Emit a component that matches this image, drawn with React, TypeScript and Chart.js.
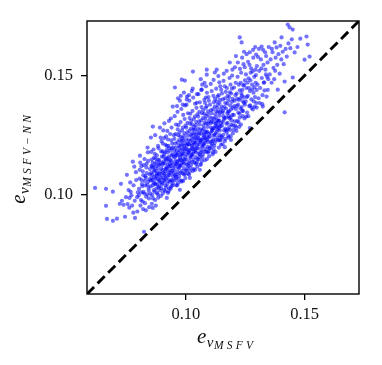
import React, { useEffect, useRef } from "react";
import { Chart, registerables } from "chart.js";

Chart.register(...registerables);

// Axis limits and ticks
const axisMin = 0.0584;
const axisMax = 0.1729;
const tickValues = [0.1, 0.15];

// Axis titles (math-like: e with nested subscripts)
const xTitleParts = [
  { text: "e", size: 21, dy: 0, spacing: 0, gap: 0.5 },
  { text: "v", size: 15, dy: 3.5, spacing: 0, gap: 0.5 },
  { text: "MSFV", size: 11.5, dy: 5.5, spacing: 3.2, gap: 0 },
];
const yTitleParts = [
  { text: "e", size: 21, dy: 0, spacing: 0, gap: 0.5 },
  { text: "v", size: 15, dy: 3.5, spacing: 0, gap: 0.5 },
  { text: "MSFV\u2212NN", size: 11.5, dy: 5.5, spacing: 3.2, gap: 0 },
];

// Scatter data: [e_vMSFV, e_vMSFV-NN], grouped by x range
const pts060to080: [number, number][] = [
  [0.0618, 0.1029], [0.0664, 0.1025], [0.0693, 0.1013], [0.0664, 0.0954], [0.0668, 0.0899],
  [0.0693, 0.0891], [0.071, 0.09], [0.0727, 0.1046], [0.0744, 0.0908], [0.0722, 0.0962],
  [0.0738, 0.0958], [0.0731, 0.0975], [0.0748, 0.099],
  [0.0752, 0.1084], [0.0777, 0.1139], [0.0786, 0.0903], [0.0762, 0.0946], [0.0755, 0.0961],
  [0.0771, 0.0998], [0.0768, 0.1012], [0.078, 0.104], [0.0791, 0.1062], [0.0759, 0.102],
  [0.0785, 0.0975], [0.0796, 0.093], [0.0774, 0.0955], [0.079, 0.1095], [0.0798, 0.101],
  [0.0766, 0.1052], [0.0783, 0.1118], [0.0795, 0.099], [0.0779, 0.0925], [0.0763, 0.0987],
];
const pts080to085: [number, number][] = [
  [0.0807, 0.1164], [0.0824, 0.0845], [0.0803, 0.1025], [0.0811, 0.0978], [0.0815, 0.1045],
  [0.0819, 0.1098], [0.0822, 0.1012], [0.0828, 0.0965], [0.0831, 0.1071], [0.0835, 0.113],
  [0.0838, 0.1002], [0.0842, 0.1055], [0.0846, 0.0948], [0.0849, 0.1108], [0.0805, 0.1068],
  [0.0809, 0.0955], [0.0813, 0.112], [0.0817, 0.1036], [0.0821, 0.1082], [0.0826, 0.115],
  [0.0829, 0.104], [0.0833, 0.0992], [0.0836, 0.1091], [0.084, 0.1178], [0.0844, 0.1018],
  [0.0847, 0.1065], [0.0802, 0.0998], [0.0806, 0.1105], [0.0812, 0.101], [0.0818, 0.0972],
  [0.0823, 0.1125], [0.0827, 0.1058], [0.0832, 0.0935], [0.0837, 0.1043], [0.0841, 0.1142],
  [0.0845, 0.0985], [0.0848, 0.1085], [0.0814, 0.1062], [0.0825, 0.1005], [0.0834, 0.1115],
  [0.0843, 0.103], [0.0808, 0.1135], [0.082, 0.094], [0.0839, 0.1198], [0.083, 0.1078],
];
const pts085to090: [number, number][] = [
  [0.0861, 0.1286], [0.0861, 0.0945], [0.0852, 0.1035], [0.0854, 0.1092], [0.0856, 0.1148],
  [0.0858, 0.0998], [0.086, 0.1062], [0.0863, 0.1115], [0.0865, 0.102], [0.0867, 0.1075],
  [0.0869, 0.1172], [0.0871, 0.0978], [0.0873, 0.1045], [0.0875, 0.1101], [0.0877, 0.1138],
  [0.0879, 0.1008], [0.0881, 0.1068], [0.0883, 0.1205], [0.0885, 0.103], [0.0887, 0.1088],
  [0.0889, 0.1125], [0.0891, 0.1282], [0.0893, 0.1052], [0.0895, 0.0995], [0.0897, 0.111],
  [0.0899, 0.116], [0.0853, 0.106], [0.0855, 0.1122], [0.0857, 0.0962], [0.0859, 0.1085],
  [0.0862, 0.104], [0.0864, 0.119], [0.0866, 0.1098], [0.0868, 0.1012], [0.087, 0.113],
  [0.0872, 0.1066], [0.0874, 0.0955], [0.0876, 0.1078], [0.0878, 0.1165], [0.088, 0.1042],
  [0.0882, 0.1112], [0.0884, 0.0988], [0.0886, 0.1058], [0.0888, 0.1145], [0.089, 0.108],
  [0.0892, 0.1018], [0.0894, 0.1135], [0.0896, 0.107], [0.0898, 0.1225], [0.0851, 0.1005],
  [0.0856, 0.107], [0.086, 0.1135], [0.0864, 0.105], [0.0868, 0.1105], [0.0872, 0.1152],
  [0.0876, 0.1025], [0.088, 0.109], [0.0884, 0.1148], [0.0888, 0.1035], [0.0892, 0.1098],
  [0.0896, 0.1182], [0.0899, 0.1045], [0.0854, 0.118], [0.0858, 0.1118], [0.0862, 0.0985],
  [0.0866, 0.1155], [0.087, 0.1048], [0.0874, 0.112], [0.0878, 0.1085], [0.0882, 0.1002],
  [0.0886, 0.1128], [0.089, 0.1062], [0.0894, 0.124], [0.0898, 0.1088], [0.0853, 0.124],
  [0.0871, 0.125], [0.0885, 0.1195], [0.0897, 0.1028],
];
const pts090to095: [number, number][] = [
  [0.092, 0.0987], [0.0945, 0.137], [0.0902, 0.105], [0.0904, 0.1105], [0.0906, 0.116],
  [0.0908, 0.102], [0.091, 0.1085], [0.0912, 0.1132], [0.0914, 0.121], [0.0916, 0.1068],
  [0.0918, 0.1115], [0.0922, 0.1045], [0.0924, 0.1178], [0.0926, 0.1095], [0.0928, 0.114],
  [0.093, 0.1028], [0.0932, 0.1082], [0.0934, 0.1255], [0.0936, 0.112], [0.0938, 0.1062],
  [0.094, 0.1165], [0.0942, 0.11], [0.0944, 0.104], [0.0946, 0.1198], [0.0948, 0.1128],
  [0.0901, 0.1125], [0.0903, 0.1005], [0.0905, 0.1072], [0.0907, 0.114], [0.0909, 0.1238],
  [0.0911, 0.1058], [0.0913, 0.1098], [0.0915, 0.115], [0.0917, 0.103], [0.0919, 0.1188],
  [0.0921, 0.111], [0.0923, 0.1072], [0.0925, 0.1232], [0.0927, 0.1015], [0.0929, 0.116],
  [0.0931, 0.1118], [0.0933, 0.1055], [0.0935, 0.1185], [0.0937, 0.1092], [0.0939, 0.1035],
  [0.0941, 0.1135], [0.0943, 0.1215], [0.0947, 0.1075], [0.0949, 0.116], [0.0902, 0.1182],
  [0.0906, 0.1092], [0.091, 0.13], [0.0914, 0.104], [0.0918, 0.1148], [0.0922, 0.1268],
  [0.0926, 0.1058], [0.093, 0.1195], [0.0934, 0.1102], [0.0938, 0.1145], [0.0942, 0.106],
  [0.0946, 0.1112], [0.095, 0.125], [0.0904, 0.1132], [0.0908, 0.1062], [0.0912, 0.1178],
  [0.0916, 0.1108], [0.092, 0.1205], [0.0924, 0.1125], [0.0928, 0.1085], [0.0932, 0.1148],
  [0.0936, 0.1025], [0.094, 0.1282], [0.0944, 0.117], [0.0948, 0.109], [0.0903, 0.1215],
  [0.0909, 0.117], [0.0915, 0.108], [0.0921, 0.1155], [0.0927, 0.1205], [0.0933, 0.1128],
  [0.0939, 0.1228], [0.0945, 0.1048], [0.0905, 0.127], [0.0917, 0.1245], [0.0929, 0.131],
  [0.0941, 0.1195], [0.0913, 0.1015], [0.0925, 0.1008], [0.0937, 0.132],
];
const pts095to100: [number, number][] = [
  [0.0954, 0.145], [0.0975, 0.1021], [0.0983, 0.1483], [0.0996, 0.1479], [0.0952, 0.1102],
  [0.0954, 0.1158], [0.0956, 0.1215], [0.0958, 0.1068], [0.096, 0.1128], [0.0962, 0.1185],
  [0.0964, 0.104], [0.0966, 0.1095], [0.0968, 0.125], [0.097, 0.1142], [0.0972, 0.1078],
  [0.0974, 0.1198], [0.0976, 0.112], [0.0978, 0.1165], [0.098, 0.1055], [0.0982, 0.1225],
  [0.0984, 0.1135], [0.0986, 0.109], [0.0988, 0.1282], [0.099, 0.1175], [0.0992, 0.1112],
  [0.0994, 0.1205], [0.0996, 0.1148], [0.0998, 0.107], [0.0951, 0.1185], [0.0953, 0.106],
  [0.0955, 0.1118], [0.0957, 0.1172], [0.0959, 0.1295], [0.0961, 0.1085], [0.0963, 0.1138],
  [0.0965, 0.122], [0.0967, 0.105], [0.0969, 0.1178], [0.0971, 0.1115], [0.0973, 0.1262],
  [0.0975, 0.1158], [0.0977, 0.1092], [0.0979, 0.1212], [0.0981, 0.1145], [0.0983, 0.11],
  [0.0985, 0.1238], [0.0987, 0.1168], [0.0989, 0.1058], [0.0991, 0.1195], [0.0993, 0.113],
  [0.0995, 0.1318], [0.0997, 0.1218], [0.0999, 0.1102], [0.0952, 0.1235], [0.0956, 0.1142],
  [0.096, 0.1075], [0.0964, 0.1168], [0.0968, 0.111], [0.0972, 0.123], [0.0976, 0.1185],
  [0.098, 0.1125], [0.0984, 0.127], [0.0988, 0.115], [0.0992, 0.1245], [0.0996, 0.1088],
  [0.1, 0.1192], [0.0954, 0.1082], [0.0958, 0.1198], [0.0962, 0.113], [0.0966, 0.1275],
  [0.097, 0.1065], [0.0974, 0.1148], [0.0978, 0.1305], [0.0982, 0.1172], [0.0986, 0.1208],
  [0.099, 0.1138], [0.0994, 0.1258], [0.0998, 0.116], [0.0953, 0.133], [0.0959, 0.104],
  [0.0965, 0.1348], [0.0971, 0.1205], [0.0977, 0.1245], [0.0983, 0.106], [0.0989, 0.1335],
  [0.0995, 0.1182], [0.0957, 0.1255], [0.0963, 0.1372], [0.0969, 0.1292], [0.0981, 0.136],
  [0.0987, 0.1228], [0.0993, 0.1085], [0.0999, 0.129], [0.0961, 0.1165], [0.0973, 0.1125],
  [0.0985, 0.119], [0.0997, 0.1375], [0.0967, 0.1405], [0.0979, 0.1415], [0.0992, 0.1429],
  [0.0975, 0.1395], [0.0987, 0.1378],
];
const pts100to105: [number, number][] = [
  [0.103, 0.1517], [0.1017, 0.1071], [0.1002, 0.1148], [0.1004, 0.1205], [0.1006, 0.1262],
  [0.1008, 0.1112], [0.101, 0.1175], [0.1012, 0.123], [0.1014, 0.1085], [0.1016, 0.114],
  [0.1018, 0.1298], [0.102, 0.1188], [0.1022, 0.1125], [0.1024, 0.1245], [0.1026, 0.1165],
  [0.1028, 0.121], [0.103, 0.11], [0.1032, 0.1272], [0.1034, 0.1182], [0.1036, 0.1135],
  [0.1038, 0.1328], [0.104, 0.122], [0.1042, 0.1158], [0.1044, 0.1252], [0.1046, 0.1195],
  [0.1048, 0.1118], [0.1001, 0.1232], [0.1003, 0.1102], [0.1005, 0.1168], [0.1007, 0.1215],
  [0.1009, 0.1342], [0.1011, 0.1132], [0.1013, 0.1185], [0.1015, 0.1268], [0.1017, 0.1098],
  [0.1019, 0.1225], [0.1021, 0.116], [0.1023, 0.131], [0.1025, 0.1205], [0.1027, 0.1138],
  [0.1029, 0.1258], [0.1031, 0.1192], [0.1033, 0.1148], [0.1035, 0.1285], [0.1037, 0.1215],
  [0.1039, 0.1105], [0.1041, 0.124], [0.1043, 0.1178], [0.1045, 0.1365], [0.1047, 0.1265],
  [0.1049, 0.115], [0.1002, 0.1282], [0.1006, 0.119], [0.101, 0.1122], [0.1014, 0.1212],
  [0.1018, 0.1155], [0.1022, 0.1278], [0.1026, 0.1232], [0.103, 0.1172], [0.1034, 0.1318],
  [0.1038, 0.1198], [0.1042, 0.1292], [0.1046, 0.1135], [0.105, 0.1238], [0.1004, 0.1128],
  [0.1008, 0.1248], [0.1012, 0.1178], [0.1016, 0.1322], [0.102, 0.1112], [0.1024, 0.1195],
  [0.1028, 0.1352], [0.1032, 0.122], [0.1036, 0.1255], [0.104, 0.1185], [0.1044, 0.1305],
  [0.1048, 0.1208], [0.1003, 0.1378], [0.1009, 0.1088], [0.1015, 0.1395], [0.1021, 0.1252],
  [0.1027, 0.1295], [0.1033, 0.1108], [0.1039, 0.1382], [0.1045, 0.1228], [0.1007, 0.1302],
  [0.1013, 0.1418], [0.1019, 0.134], [0.1031, 0.1408], [0.1037, 0.1275], [0.1043, 0.113],
  [0.1049, 0.1338], [0.1011, 0.1212], [0.1023, 0.117], [0.1035, 0.1238], [0.1047, 0.1422],
  [0.1025, 0.1435], [0.1005, 0.1412], [0.1029, 0.1445], [0.1004, 0.14], [0.1046, 0.1386],
];
const pts105to110: [number, number][] = [
  [0.1088, 0.1525], [0.1059, 0.1105], [0.1052, 0.1195], [0.1054, 0.125], [0.1056, 0.1308],
  [0.1058, 0.1158], [0.106, 0.122], [0.1062, 0.1275], [0.1064, 0.113], [0.1066, 0.1185],
  [0.1068, 0.1342], [0.107, 0.1232], [0.1072, 0.117], [0.1074, 0.129], [0.1076, 0.121],
  [0.1078, 0.1255], [0.108, 0.1145], [0.1082, 0.1318], [0.1084, 0.1228], [0.1086, 0.118],
  [0.1088, 0.1372], [0.109, 0.1265], [0.1092, 0.1202], [0.1094, 0.1298], [0.1096, 0.124],
  [0.1098, 0.1162], [0.1051, 0.1278], [0.1053, 0.1148], [0.1055, 0.1212], [0.1057, 0.126],
  [0.1059, 0.1388], [0.1061, 0.1178], [0.1063, 0.123], [0.1065, 0.1312], [0.1067, 0.1142],
  [0.1069, 0.127], [0.1071, 0.1205], [0.1073, 0.1355], [0.1075, 0.125], [0.1077, 0.1182],
  [0.1079, 0.1302], [0.1081, 0.1238], [0.1083, 0.1192], [0.1085, 0.133], [0.1087, 0.1262],
  [0.1089, 0.115], [0.1091, 0.1285], [0.1093, 0.1222], [0.1095, 0.141], [0.1097, 0.131],
  [0.1099, 0.1195], [0.1052, 0.1328], [0.1056, 0.1235], [0.106, 0.1168], [0.1064, 0.1258],
  [0.1068, 0.12], [0.1072, 0.1322], [0.1076, 0.1278], [0.108, 0.1218], [0.1084, 0.1365],
  [0.1088, 0.1245], [0.1092, 0.1338], [0.1096, 0.1182], [0.1054, 0.1172], [0.1058, 0.1295],
  [0.1062, 0.1225], [0.1066, 0.1368], [0.107, 0.1158], [0.1074, 0.124], [0.1078, 0.1398],
  [0.1082, 0.1265], [0.1086, 0.13], [0.109, 0.1232], [0.1094, 0.135], [0.1098, 0.1255],
  [0.1053, 0.1422], [0.1065, 0.144], [0.1077, 0.134], [0.1089, 0.1428], [0.1057, 0.1348],
  [0.1069, 0.1462], [0.1081, 0.1385], [0.1093, 0.1178], [0.1061, 0.1125], [0.1073, 0.1215],
  [0.1085, 0.1455], [0.1097, 0.1395], [0.1063, 0.1485], [0.1079, 0.147], [0.1088, 0.1504],
  [0.1067, 0.1441], [0.1084, 0.1408],
];
const pts110to115: [number, number][] = [
  [0.113, 0.1525], [0.1122, 0.1513], [0.1102, 0.1245], [0.1104, 0.13], [0.1106, 0.1355],
  [0.1108, 0.1205], [0.111, 0.1268], [0.1112, 0.1322], [0.1114, 0.1178], [0.1116, 0.1232],
  [0.1118, 0.1388], [0.112, 0.128], [0.1122, 0.1218], [0.1124, 0.1338], [0.1126, 0.1258],
  [0.1128, 0.1302], [0.1132, 0.1365], [0.1134, 0.1275], [0.1136, 0.1228], [0.1138, 0.1418],
  [0.114, 0.1312], [0.1142, 0.125], [0.1144, 0.1345], [0.1146, 0.1288], [0.1148, 0.121],
  [0.1101, 0.1325], [0.1103, 0.1195], [0.1105, 0.126], [0.1107, 0.1308], [0.1109, 0.1435],
  [0.1111, 0.1225], [0.1113, 0.1278], [0.1115, 0.1358], [0.1117, 0.119], [0.1119, 0.1318],
  [0.1121, 0.1252], [0.1123, 0.1402], [0.1125, 0.1298], [0.1127, 0.123], [0.1129, 0.135],
  [0.1131, 0.1285], [0.1133, 0.124], [0.1135, 0.1378], [0.1137, 0.131], [0.1139, 0.1198],
  [0.1141, 0.1332], [0.1143, 0.127], [0.1145, 0.1455], [0.1147, 0.1358], [0.1149, 0.1245],
  [0.1102, 0.1378], [0.1106, 0.1282], [0.111, 0.1215], [0.1114, 0.1305], [0.1118, 0.1248],
  [0.1122, 0.137], [0.1126, 0.1325], [0.113, 0.1265], [0.1134, 0.1412], [0.1138, 0.1292],
  [0.1142, 0.1385], [0.1146, 0.1228], [0.1104, 0.1222], [0.1108, 0.1342], [0.1112, 0.1272],
  [0.1116, 0.1415], [0.112, 0.1205], [0.1124, 0.1288], [0.1128, 0.1445], [0.1132, 0.1312],
  [0.1136, 0.1348], [0.114, 0.128], [0.1144, 0.1398], [0.1148, 0.1302], [0.1105, 0.1465],
  [0.1117, 0.1482], [0.1129, 0.1392], [0.1141, 0.1472], [0.1113, 0.117], [0.1125, 0.118],
  [0.1137, 0.1498], [0.1149, 0.144], [0.1143, 0.1231],
];
const pts115to120: [number, number][] = [
  [0.1185, 0.1555], [0.1152, 0.129], [0.1154, 0.1345], [0.1156, 0.14], [0.1158, 0.1252],
  [0.116, 0.1315], [0.1162, 0.1368], [0.1164, 0.1225], [0.1166, 0.1278], [0.1168, 0.1432],
  [0.117, 0.1325], [0.1172, 0.1262], [0.1174, 0.1382], [0.1176, 0.1302], [0.1178, 0.1348],
  [0.118, 0.124], [0.1182, 0.141], [0.1184, 0.132], [0.1186, 0.1272], [0.1188, 0.1462],
  [0.119, 0.1358], [0.1192, 0.1295], [0.1194, 0.139], [0.1196, 0.1335], [0.1198, 0.1258],
  [0.1151, 0.137], [0.1153, 0.124], [0.1155, 0.1305], [0.1157, 0.1352], [0.1159, 0.1478],
  [0.1161, 0.127], [0.1163, 0.1322], [0.1165, 0.1405], [0.1167, 0.1235], [0.1169, 0.1362],
  [0.1171, 0.1298], [0.1173, 0.1448], [0.1175, 0.1342], [0.1177, 0.1275], [0.1179, 0.1395],
  [0.1181, 0.133], [0.1183, 0.1285], [0.1187, 0.1375], [0.1189, 0.1245], [0.1191, 0.1425],
  [0.1193, 0.1312], [0.1195, 0.15], [0.1197, 0.1402], [0.1199, 0.129], [0.1152, 0.1425],
  [0.1158, 0.133], [0.1164, 0.1455], [0.117, 0.127], [0.1176, 0.1415], [0.1182, 0.135],
  [0.1188, 0.1325], [0.1194, 0.1445], [0.116, 0.1508], [0.1172, 0.152], [0.1184, 0.149],
  [0.1196, 0.1525], [0.1166, 0.1385], [0.1178, 0.1248], [0.119, 0.123], [0.1155, 0.1212],
  [0.1185, 0.143], [0.1198, 0.1365], [0.1164, 0.12],
];
const pts120to125: [number, number][] = [
  [0.1227, 0.166], [0.1235, 0.1639], [0.1227, 0.1324], [0.1202, 0.1335], [0.1205, 0.1395],
  [0.1208, 0.129], [0.1211, 0.136], [0.1214, 0.1425], [0.1217, 0.131], [0.122, 0.1378],
  [0.1223, 0.1462], [0.1226, 0.134], [0.1229, 0.1405], [0.1232, 0.1295], [0.1235, 0.1368],
  [0.1238, 0.144], [0.1241, 0.1352], [0.1244, 0.141], [0.1247, 0.132], [0.1249, 0.148],
  [0.1203, 0.145], [0.1206, 0.1308], [0.1209, 0.1418], [0.1212, 0.1282], [0.1215, 0.1372],
  [0.1218, 0.1495], [0.1221, 0.1345], [0.1224, 0.1398], [0.1227, 0.1438], [0.123, 0.1362],
  [0.1233, 0.1512], [0.1236, 0.1415], [0.1239, 0.133], [0.1242, 0.1458], [0.1245, 0.1385],
  [0.1248, 0.1535], [0.1204, 0.1372], [0.121, 0.147], [0.1216, 0.1402], [0.1222, 0.1305],
  [0.1228, 0.1528], [0.1234, 0.1425], [0.124, 0.1392], [0.1246, 0.1462], [0.1207, 0.1535],
  [0.1219, 0.1555], [0.1231, 0.147], [0.1243, 0.1548], [0.1213, 0.1268], [0.1225, 0.1285],
  [0.1237, 0.1575], [0.1249, 0.1378], [0.1201, 0.1272], [0.1237, 0.1352], [0.1211, 0.1582],
  [0.1245, 0.16],
];
const pts125to135: [number, number][] = [
  [0.1298, 0.1366], [0.1252, 0.1392], [0.1255, 0.1448], [0.1258, 0.1345], [0.1261, 0.1415],
  [0.1264, 0.1488], [0.1267, 0.1372], [0.127, 0.1435], [0.1273, 0.1512], [0.1276, 0.14],
  [0.1279, 0.1462], [0.1282, 0.1358], [0.1285, 0.1428], [0.1288, 0.1495], [0.1291, 0.141],
  [0.1294, 0.147], [0.1297, 0.1385], [0.1299, 0.154], [0.1253, 0.1505], [0.1257, 0.141],
  [0.1262, 0.1558], [0.1266, 0.1448], [0.1271, 0.1375], [0.1275, 0.153], [0.128, 0.1442],
  [0.1284, 0.1575], [0.1289, 0.1452], [0.1293, 0.1525], [0.1298, 0.144], [0.1256, 0.159],
  [0.1263, 0.133], [0.1269, 0.1598], [0.1277, 0.1365], [0.1283, 0.1608], [0.129, 0.137],
  [0.1296, 0.1588], [0.126, 0.147], [0.1272, 0.148], [0.1286, 0.1392], [0.1295, 0.1502],
  [0.1268, 0.1545], [0.1281, 0.1518], [0.1292, 0.162], [0.1254, 0.1328], [0.1269, 0.128],
  [0.1319, 0.1622], [0.1302, 0.1462], [0.1306, 0.1405], [0.1309, 0.152], [0.1313, 0.1448],
  [0.1316, 0.1568], [0.132, 0.149], [0.1323, 0.1418], [0.1327, 0.1545], [0.133, 0.1472],
  [0.1334, 0.1598], [0.1337, 0.1505], [0.134, 0.1412], [0.1344, 0.1555], [0.1347, 0.1485],
  [0.1304, 0.1578], [0.1311, 0.1385], [0.1318, 0.153], [0.1325, 0.1608], [0.1331, 0.1438],
  [0.1338, 0.1582], [0.1345, 0.144], [0.1349, 0.162], [0.1308, 0.1612], [0.1322, 0.138],
  [0.1335, 0.1525], [0.1342, 0.1495], [0.1328, 0.147], [0.1324, 0.137],
];
const pts135to153: [number, number][] = [
  [0.1374, 0.1639], [0.1403, 0.166], [0.1387, 0.1441], [0.1416, 0.1475], [0.1416, 0.1346],
  [0.1437, 0.1702], [0.145, 0.1693], [0.1429, 0.1714], [0.1458, 0.1597], [0.145, 0.1492],
  [0.1353, 0.1505], [0.1357, 0.1568], [0.1361, 0.147], [0.1365, 0.1598], [0.1369, 0.1532],
  [0.1372, 0.1485], [0.1378, 0.1575], [0.1382, 0.1618], [0.1385, 0.1545], [0.139, 0.159],
  [0.1395, 0.1508], [0.1398, 0.1625], [0.1402, 0.1568], [0.1408, 0.16], [0.1412, 0.1548],
  [0.142, 0.1612], [0.1425, 0.158], [0.1432, 0.1635], [0.144, 0.1615], [0.1446, 0.1652],
  [0.1362, 0.1612], [0.1376, 0.152], [0.1508, 0.1664], [0.1513, 0.163], [0.15, 0.1567],
  [0.1521, 0.158], [0.147, 0.162], [0.1482, 0.1655],
];

const allPoints = [
  ...pts060to080, ...pts080to085, ...pts085to090, ...pts090to095, ...pts095to100,
  ...pts100to105, ...pts105to110, ...pts110to115, ...pts115to120, ...pts120to125,
  ...pts125to135, ...pts135to153,
];

type Part = { text: string; size: number; dy: number; spacing: number; gap: number };

function drawMath(ctx: CanvasRenderingContext2D, parts: Part[], cx: number, cy: number, vertical: boolean) {
  ctx.save();
  ctx.fillStyle = "#111";
  ctx.textBaseline = "alphabetic";
  ctx.textAlign = "left";
  const fontOf = (p: Part) => `italic ${p.size}px "Liberation Serif", "DejaVu Serif", serif`;
  let total = 0;
  const widths: number[][] = parts.map((p) => {
    ctx.font = fontOf(p);
    return Array.from(p.text).map((ch) => ctx.measureText(ch).width);
  });
  parts.forEach((p, i) => {
    const w = widths[i];
    total += w.reduce((a, b) => a + b, 0) + p.spacing * (w.length - 1) + p.gap;
  });
  ctx.translate(cx, cy);
  if (vertical) ctx.rotate(-Math.PI / 2);
  let x = -total / 2;
  parts.forEach((p, i) => {
    ctx.font = fontOf(p);
    const chars = Array.from(p.text);
    chars.forEach((ch, j) => {
      ctx.fillText(ch, x, p.dy);
      x += widths[i][j] + (j < chars.length - 1 ? p.spacing : 0);
    });
    x += p.gap;
  });
  ctx.restore();
}

const framePlugin = {
  id: "frameAndTitles",
  afterDatasetsDraw(chart: any) {
    const { ctx, chartArea: a } = chart;
    ctx.save();
    ctx.strokeStyle = "#000";
    ctx.lineWidth = 1.4;
    ctx.strokeRect(a.left, a.top, a.right - a.left, a.bottom - a.top);
    ctx.restore();
  },
  afterDraw(chart: any) {
    const { ctx, chartArea: a } = chart;
    drawMath(ctx, xTitleParts, (a.left + a.right) / 2 + 2, 343, false);
    drawMath(ctx, yTitleParts, 25, (a.top + a.bottom) / 2 + 2, true);
  },
};

export default function App() {
  const ref = useRef<HTMLCanvasElement | null>(null);
  useEffect(() => {
    if (!ref.current) return;
    const tickFont = { family: '"Liberation Serif", "DejaVu Serif", serif', size: 16.5 };
    const chart = new Chart(ref.current, {
      type: "scatter",
      data: {
        datasets: [
          {
            label: "identity",
            data: [
              { x: axisMin, y: axisMin },
              { x: axisMax, y: axisMax },
            ],
            showLine: true,
            borderColor: "#000",
            borderWidth: 2.9,
            borderDash: [10, 5],
            pointRadius: 0,
            fill: false,
          } as any,
          {
            label: "errors",
            data: allPoints.map(([x, y]) => ({ x, y })),
            backgroundColor: "rgba(0,0,255,0.55)",
            borderWidth: 0,
            pointRadius: 2.1,
          },
        ],
      },
      options: {
        animation: false,
        responsive: false,
        devicePixelRatio: 1,
        layout: { padding: { top: 21, right: 23, left: 0, bottom: 0 } },
        plugins: { legend: { display: false }, tooltip: { enabled: false } },
        scales: {
          x: {
            type: "linear",
            min: axisMin,
            max: axisMax,
            afterBuildTicks: (s: any) => {
              s.ticks = tickValues.map((v) => ({ value: v }));
            },
            afterFit: (s: any) => {
              s.height = 71;
            },
            ticks: {
              font: tickFont,
              color: "#111",
              padding: 5,
              maxRotation: 0,
              callback: (v: any) => Number(v).toFixed(2),
            },
            grid: { drawOnChartArea: false, drawTicks: true, tickLength: 6, color: "#000", lineWidth: 1.3 },
            border: { display: false },
          },
          y: {
            type: "linear",
            min: axisMin,
            max: axisMax,
            afterBuildTicks: (s: any) => {
              s.ticks = tickValues.map((v) => ({ value: v }));
            },
            afterFit: (s: any) => {
              s.width = 87;
            },
            ticks: {
              font: tickFont,
              color: "#111",
              padding: 8,
              callback: (v: any) => Number(v).toFixed(2),
            },
            grid: { drawOnChartArea: false, drawTicks: true, tickLength: 6, color: "#000", lineWidth: 1.3 },
            border: { display: false },
          },
        },
      },
      plugins: [framePlugin],
    });
    return () => chart.destroy();
  }, []);
  return (
    <div style={{ position: "fixed", left: 0, top: 0, width: 382, height: 365, background: "#fff" }}>
      <canvas ref={ref} width={382} height={365} style={{ width: 382, height: 365, display: "block" }} />
    </div>
  );
}
